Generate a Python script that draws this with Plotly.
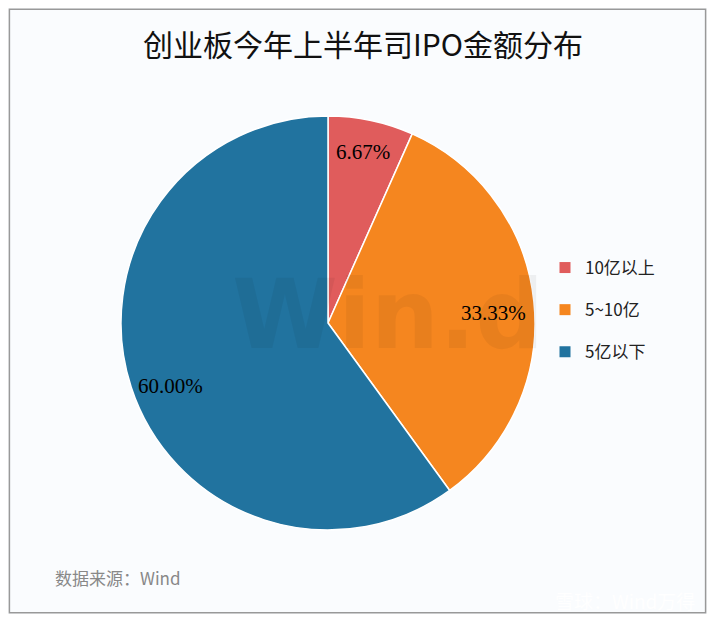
import plotly.graph_objects as go

labels = ["10亿以上", "5~10亿", "5亿以下"]
values = [6.67, 33.33, 60.00]
colors = ["#E05C5C", "#F5861F", "#21739F"]
label_pos = [(363, 152), (493, 313), (170, 386)]

OFF = 8
W, H = 715 - 2*OFF, 622 - 2*OFF
def px(x): return (x - OFF) / W
def py(y): return 1 - (y - OFF) / H

fig = go.Figure(go.Pie(
    labels=labels, values=values, sort=False, direction="clockwise", rotation=0,
    marker=dict(colors=colors, line=dict(color="white", width=1.5)),
    textinfo="none", hoverinfo="label+percent", showlegend=False,
    domain=dict(x=[px(121), px(535)], y=[py(530), py(116)]),
))
for lab, col in zip(labels, colors):
    fig.add_trace(go.Scatter(x=[None], y=[None], mode="markers", name=lab, legendgroup=lab,
                             marker=dict(symbol="square", size=11, color=col)))
ann = []
for v, (x, y) in zip(values, label_pos):
    ann.append(dict(text=f"{v:.2f}%", x=px(x), y=py(y), xref="paper", yref="paper", showarrow=False,
                    xanchor="center", yanchor="middle",
                    font=dict(family="Liberation Sans Narrow", size=21, color="black")))
ann += [
    dict(text="数据来源：Wind", x=px(53), y=py(577), xref="paper", yref="paper", xanchor="left",
         yanchor="middle", showarrow=False, font=dict(family="Noto Sans CJK SC", size=17, color="#888")),
    dict(text="<b>Win.d</b>", x=px(388), y=py(315), xref="paper", yref="paper", showarrow=False,
         xanchor="center", yanchor="middle",
         font=dict(family="DejaVu Sans", size=96, color="rgba(0,0,0,0.05)")),
    dict(text="雪球：Wind万得", x=px(697), y=py(600), xref="paper", yref="paper", xanchor="right",
         yanchor="middle", showarrow=False, font=dict(family="Noto Sans CJK SC", size=19, color="white")),
]
fig.update_layout(
    width=W, height=H, margin=dict(l=0, r=0, t=0, b=0),
    paper_bgcolor="#FAFCFE", plot_bgcolor="rgba(0,0,0,0)",
    xaxis=dict(visible=False), yaxis=dict(visible=False),
    title=dict(text="创业板今年上半年司IPO金额分布", x=px(363), xanchor="center", y=py(45), yanchor="middle",
               font=dict(family="Noto Sans CJK SC", size=30, color="#111")),
    legend=dict(x=px(545), y=py(310), xanchor="left", yanchor="middle",
                font=dict(family="Noto Sans CJK SC", size=17, color="#222"), itemwidth=30,
                tracegroupgap=17, bgcolor="rgba(0,0,0,0)"),
    annotations=ann,
    shapes=[dict(type="rect", xref="paper", yref="paper", x0=0.002, y0=0.002, x1=0.998, y1=0.998,
                 line=dict(color="#999", width=1.5))],
)
fig.write_html("out.html")
